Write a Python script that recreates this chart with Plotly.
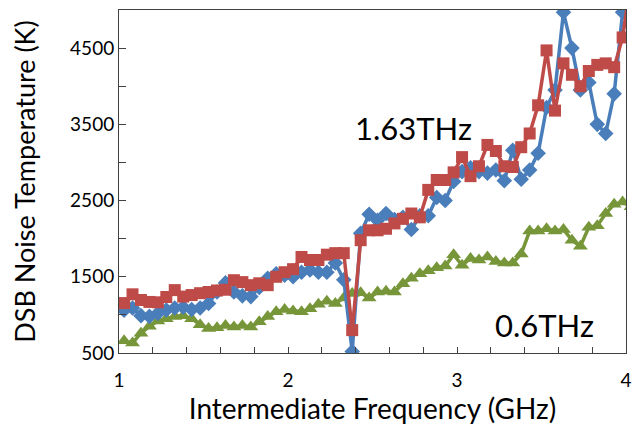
import plotly.graph_objects as go

# Intermediate frequency (GHz)
freq = [round(1.03 + 0.05 * i, 2) for i in range(61)]

# 1.63 THz, series A (blue diamonds)
t_blue = [1060, 1090, 990, 980, 1020, 1065, 1090, 1100, 1070, 1090,
          1150, 1300, 1420, 1300, 1250, 1240, 1360, 1480, 1540, 1520,
          1500, 1560, 1590, 1560, 1560, 1680, 1460, 520, 2070, 2320,
          2240, 2330, 2250, 2280, 2120, 2300, 2300, 2540, 2500, 2750,
          2880, 2930, 2880, 2860, 2900, 2760, 3160, 2780, 2900, 3120,
          3720, 3950, 4970, 4500, 3950, 4050, 3500, 3380, 3900, 4970, 5600]

# 1.63 THz, series B (red squares)
t_red = [1155, 1270, 1195, 1170, 1165, 1235, 1325, 1240, 1260, 1285,
         1300, 1320, 1330, 1455, 1430, 1390, 1415, 1390, 1500, 1560,
         1600, 1760, 1720, 1720, 1790, 1810, 1810, 800, 1980, 2110,
         2110, 2130, 2200, 2260, 2330, 2280, 2640, 2770, 2770, 2870,
         3070, 2820, 2950, 3230, 3150, 2950, 2940, 3200, 3380, 3750,
         4470, 3680, 4300, 4150, 4000, 4200, 4280, 4300, 4250, 4640, 5400]

# 0.6 THz (green triangles)
t_green = [660, 630, 760, 850, 920, 950, 980, 990, 950, 870,
           820, 830, 860, 840, 860, 840, 910, 980, 1040, 1070,
           1050, 1040, 1080, 1140, 1180, 1150, 1220, 1280, 1290, 1220,
           1300, 1310, 1300, 1410, 1480, 1540, 1580, 1620, 1640, 1790,
           1650, 1740, 1720, 1760, 1700, 1680, 1680, 1800, 2100, 2100,
           2130, 2100, 2120, 1980, 1900, 2150, 2170, 2330, 2450, 2480, 2420]

x_ticks = [1, 2, 3, 4]
y_ticks = [500, 1500, 2500, 3500, 4500]

FONT = "Lato"

fig = go.Figure()
fig.add_trace(go.Scatter(x=freq, y=t_green, mode="lines+markers",
                         line=dict(color="#77963A", width=3.5),
                         marker=dict(symbol="triangle-up", size=13, color="#77963A"),
                         showlegend=False))
fig.add_trace(go.Scatter(x=freq, y=t_blue, mode="lines+markers",
                         line=dict(color="#4A7EBB", width=3.5),
                         marker=dict(symbol="diamond", size=12, color="#4A7EBB"),
                         showlegend=False))
fig.add_trace(go.Scatter(x=freq, y=t_red, mode="lines+markers",
                         line=dict(color="#BE4B48", width=3.5),
                         marker=dict(symbol="square", size=12, color="#BE4B48"),
                         showlegend=False))

fig.add_annotation(x=2.74, y=3450, text="1.63THz", showarrow=False,
                   font=dict(family=FONT, size=31, color="black"))
fig.add_annotation(x=3.52, y=870, text="0.6THz", showarrow=False,
                   font=dict(family=FONT, size=31, color="black"))

fig.update_layout(
    width=638, height=426,
    margin=dict(l=119, r=6, t=10, b=73),
    paper_bgcolor="white", plot_bgcolor="white",
    font=dict(family=FONT, size=19, color="black"),
)
fig.update_xaxes(range=[1, 4], tickvals=x_ticks, ticks="inside", ticklen=6,
                 tickcolor="#404040", showgrid=False, zeroline=False,
                 showline=True, linecolor="#404040", linewidth=1, mirror=True,
                 minor=dict(dtick=0.2, tick0=1, ticks="inside", ticklen=6, tickcolor="#404040"),
                 ticklabelstandoff=10,
                 title=dict(text="Intermediate Frequency (GHz)", font=dict(size=28), standoff=2),
                 tickfont=dict(size=19))
fig.update_yaxes(range=[500, 5000], tickvals=y_ticks, ticks="inside", ticklen=7,
                 tickcolor="#404040", showgrid=False, zeroline=False,
                 showline=True, linecolor="#404040", linewidth=1, mirror=True,
                 minor=dict(dtick=500, tick0=0, ticks="inside", ticklen=7, tickcolor="#404040"),
                 title=dict(text="DSB Noise Temperature (K)", font=dict(size=27), standoff=26),
                 tickfont=dict(size=19))

fig.write_html("out.html")
